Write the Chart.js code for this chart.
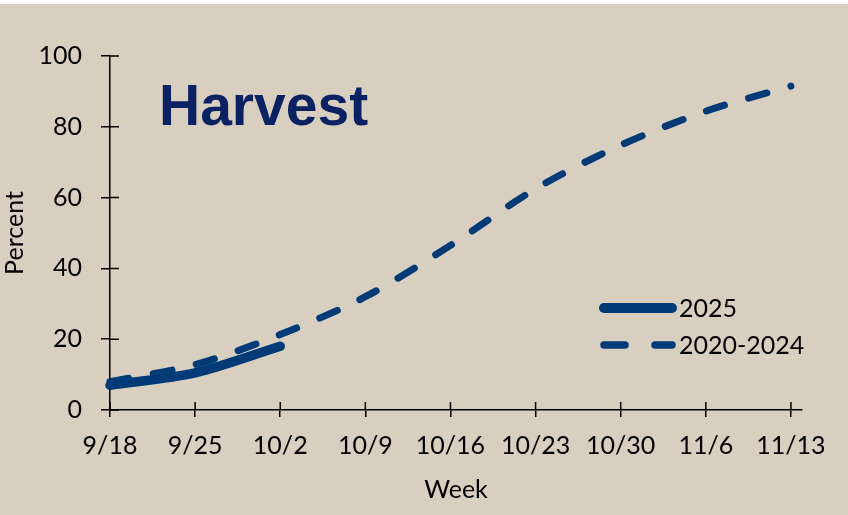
<!DOCTYPE html>
<html>
<head>
<meta charset="utf-8">
<script src="https://cdn.jsdelivr.net/npm/chart.js@4.4.1/dist/chart.umd.min.js"></script>
<style>
  html, body { margin: 0; padding: 0; background: #ffffff; }
  #wrap { width: 848px; height: 515px; }
</style>
</head>
<body>
<div id="wrap"><canvas id="harvestChart" width="848" height="515"></canvas></div>
<script>
// 수확 진행률 (주간)
const weekLabels = ['9/18', '9/25', '10/2', '10/9', '10/16', '10/23', '10/30', '11/6', '11/13'];
const harvest2025 = [7, 10.5, 18];
const harvestAvg = [8, 12.8, 21.3, 32, 46.5, 62.5, 74.8, 84.4, 91.5];
const seriesNames = ['2025', '2020-2024'];
const yTicks = [0, 20, 40, 60, 80, 100];

const navy = '#003b77';
const titleNavy = '#0b2262';
const bgColor = '#d9cfc1';
const fontFamily = 'Lato, "Open Sans", sans-serif';

const toPoints = arr => arr.map((v, i) => ({ x: i, y: v }));

// 배경 + 제목
const backdrop = {
  id: 'backdrop',
  beforeDraw(chart) {
    const c = chart.ctx;
    c.save();
    c.fillStyle = '#ffffff';
    c.fillRect(0, 0, chart.width, chart.height);
    c.fillStyle = bgColor;
    c.fillRect(0, 4, chart.width, chart.height - 4);
    c.restore();
  },
  afterDraw(chart) {
    const c = chart.ctx;
    c.save();
    c.fillStyle = titleNavy;
    c.font = 'bold 57px "Liberation Sans", Arial, sans-serif';
    c.textBaseline = 'alphabetic';
    c.fillText('Harvest', 159, 125);
    c.restore();
  }
};

// 안쪽 눈금 (축을 가로지르는 tick)
const innerTicks = {
  id: 'innerTicks',
  afterDatasetsDraw(chart) {
    const c = chart.ctx;
    const xs = chart.scales.x, ys = chart.scales.y;
    c.save();
    c.strokeStyle = '#000';
    c.lineWidth = 1.5;
    c.beginPath();
    xs.ticks.forEach(t => {
      if (weekLabels[t.value] === undefined) return;
      const px = xs.getPixelForValue(t.value);
      c.moveTo(px, ys.bottom);
      c.lineTo(px, ys.bottom - 8);
    });
    ys.ticks.forEach(t => {
      const py = ys.getPixelForValue(t.value);
      c.moveTo(xs.left, py);
      c.lineTo(xs.left + 9, py);
    });
    c.stroke();
    c.restore();
  }
};

// 범례 (차트 안쪽)
const innerLegend = {
  id: 'innerLegend',
  afterDraw(chart) {
    const c = chart.ctx;
    const x0 = 604, x1 = 672;
    const rows = [308, 345];
    c.save();
    chart.data.datasets.forEach((ds, i) => {
      c.beginPath();
      c.strokeStyle = ds.borderColor;
      c.lineWidth = i === 0 ? 10 : 7.5;
      c.lineCap = 'round';
      c.setLineDash(i === 0 ? [] : [21, 30]);
      c.moveTo(x0, rows[i]);
      c.lineTo(x1, rows[i]);
      c.stroke();
      c.setLineDash([]);
      c.fillStyle = '#000';
      c.font = '25px ' + fontFamily;
      c.textBaseline = 'middle';
      c.fillText(ds.label, 679, rows[i] + 1);
    });
    c.restore();
  }
};

const ctx = document.getElementById('harvestChart');
new Chart(ctx, {
  type: 'line',
  data: {
    datasets: [
      {
        label: seriesNames[0],
        data: toPoints(harvest2025),
        borderColor: navy,
        borderWidth: 9.5,
        borderCapStyle: 'round',
        borderJoinStyle: 'round',
        pointRadius: 0,
        tension: 0.3,
        fill: false,
        clip: false
      },
      {
        label: seriesNames[1],
        data: toPoints(harvestAvg),
        borderColor: navy,
        borderWidth: 7,
        borderDash: [19, 25],
        borderCapStyle: 'round',
        pointRadius: 0,
        tension: 0.3,
        fill: false,
        clip: false
      }
    ]
  },
  options: {
    responsive: false,
    animation: false,
    layout: { padding: { top: 56, right: 46, left: 0, bottom: 0 } },
    plugins: {
      legend: { display: false },
      tooltip: { enabled: false }
    },
    scales: {
      x: {
        type: 'linear',
        min: 0,
        max: 8.13,
        afterFit(scale) { scale.height = 105; },
        border: { color: '#000', width: 1.5 },
        grid: { drawOnChartArea: false, tickLength: 7, color: '#000', lineWidth: 1.5 },
        ticks: {
          stepSize: 1,
          includeBounds: false,
          autoSkip: false,
          maxRotation: 0,
          padding: 14,
          color: '#000',
          font: { family: fontFamily, size: 25 },
          callback: v => weekLabels[v]
        },
        title: {
          display: true,
          text: 'Week',
          color: '#000',
          font: { family: fontFamily, size: 25 },
          padding: { top: 0, bottom: 10 }
        }
      },
      y: {
        min: 0,
        max: 100,
        afterFit(scale) { scale.width = 110; },
        afterBuildTicks(scale) { scale.ticks = yTicks.map(v => ({ value: v })); },
        border: { color: '#000', width: 1.5 },
        grid: { drawOnChartArea: false, tickLength: 9, color: '#000', lineWidth: 1.5 },
        ticks: {
          padding: 19,
          color: '#000',
          font: { family: fontFamily, size: 25 }
        },
        title: {
          display: true,
          text: 'Percent',
          color: '#000',
          font: { family: fontFamily, size: 25 },
          padding: { top: 0, bottom: 0 }
        }
      }
    }
  },
  plugins: [backdrop, innerTicks, innerLegend]
});
</script>
</body>
</html>
